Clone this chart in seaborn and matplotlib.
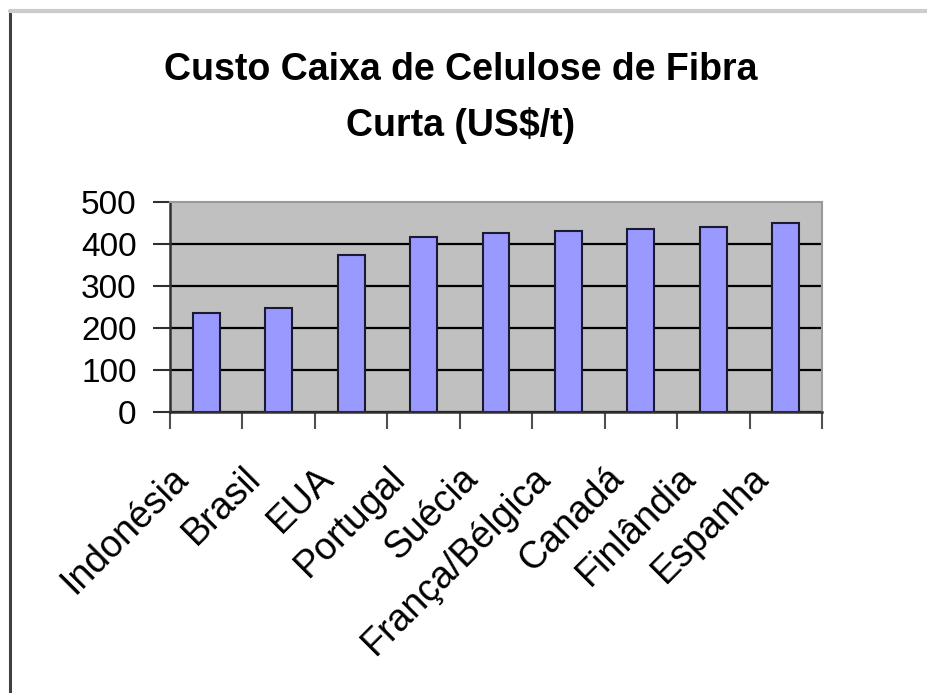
import numpy as np
import pandas as pd
import matplotlib
matplotlib.use("Agg")
import matplotlib.pyplot as plt
import seaborn as sns
from matplotlib.lines import Line2D
from matplotlib.transforms import ScaledTranslation

# Data
paises = ["Indonésia", "Brasil", "EUA", "Portugal", "Suécia",
          "França/Bélgica", "Canadá", "Finlândia", "Espanha"]
custo = [236, 248, 374, 417, 427, 432, 436, 441, 449]
y_ticks = [0, 100, 200, 300, 400, 500]
titulo = "Custo Caixa de Celulose de Fibra\nCurta (US$/t)"

df = pd.DataFrame({"pais": paises, "custo": custo})

sns.set_theme(style="white")
plt.rcParams["font.family"] = ["Liberation Sans", "DejaVu Sans"]
plt.rcParams["text.color"] = "black"
plt.rcParams["xtick.color"] = "black"
plt.rcParams["ytick.color"] = "black"

fig = plt.figure(figsize=(9.27, 6.93), dpi=100)
ax = fig.add_axes([0.1834, 0.4055, 0.7033, 0.303])
ax.set_facecolor("#c0c0c0")

sns.barplot(data=df, x="pais", y="custo", color="#9999ff", saturation=1,
            width=0.37, edgecolor="#1a1a33", linewidth=1.5, ax=ax)

ax.set_xlim(-0.5, len(paises) - 0.5)
ax.set_ylim(0, 500)
ax.set_yticks(y_ticks)
ax.set_yticklabels([str(v) for v in y_ticks], fontsize=24)
ax.set_xlabel("")
ax.set_ylabel("")

# gridlines
ax.set_axisbelow(True)
ax.yaxis.grid(True, color="black", linewidth=1.6)
ax.yaxis.get_gridlines()[-1].set_visible(False)

# category boundary ticks
ax.set_xticks(np.arange(len(paises) + 1) - 0.5, minor=True)
ax.tick_params(axis="x", which="minor", length=12, width=1.5, color="#505050",
               direction="out", bottom=True)
ax.tick_params(axis="x", which="major", length=0, pad=0)
ax.tick_params(axis="y", length=12, width=1.5, color="#303030",
               direction="out", left=True, pad=12)

ax.set_xticks(range(len(paises)))
ax.set_xticklabels(paises, rotation=45, ha="right", va="top",
                   rotation_mode="anchor", fontsize=27)
off = ScaledTranslation(-0.36, -0.48, fig.dpi_scale_trans)
for lab in ax.get_xticklabels():
    lab.set_transform(lab.get_transform() + off)

for side in ["left", "bottom"]:
    ax.spines[side].set_color("#303030")
    ax.spines[side].set_linewidth(1.8)
for side in ["top", "right"]:
    ax.spines[side].set_color("#999999")
    ax.spines[side].set_linewidth(1.5)

fig.text(0.497, 0.925, titulo, ha="center", va="top", fontsize=27,
         fontweight="bold", linespacing=1.65)

# outer frame from the screenshot
fig.add_artist(Line2D([0.011, 0.011], [0.0, 0.985], color="#404040",
                      linewidth=2.2, transform=fig.transFigure))
fig.add_artist(Line2D([0.011, 1.0], [0.984, 0.984], color="#cccccc",
                      linewidth=3, transform=fig.transFigure))

plt.savefig("out.png", dpi=100)
